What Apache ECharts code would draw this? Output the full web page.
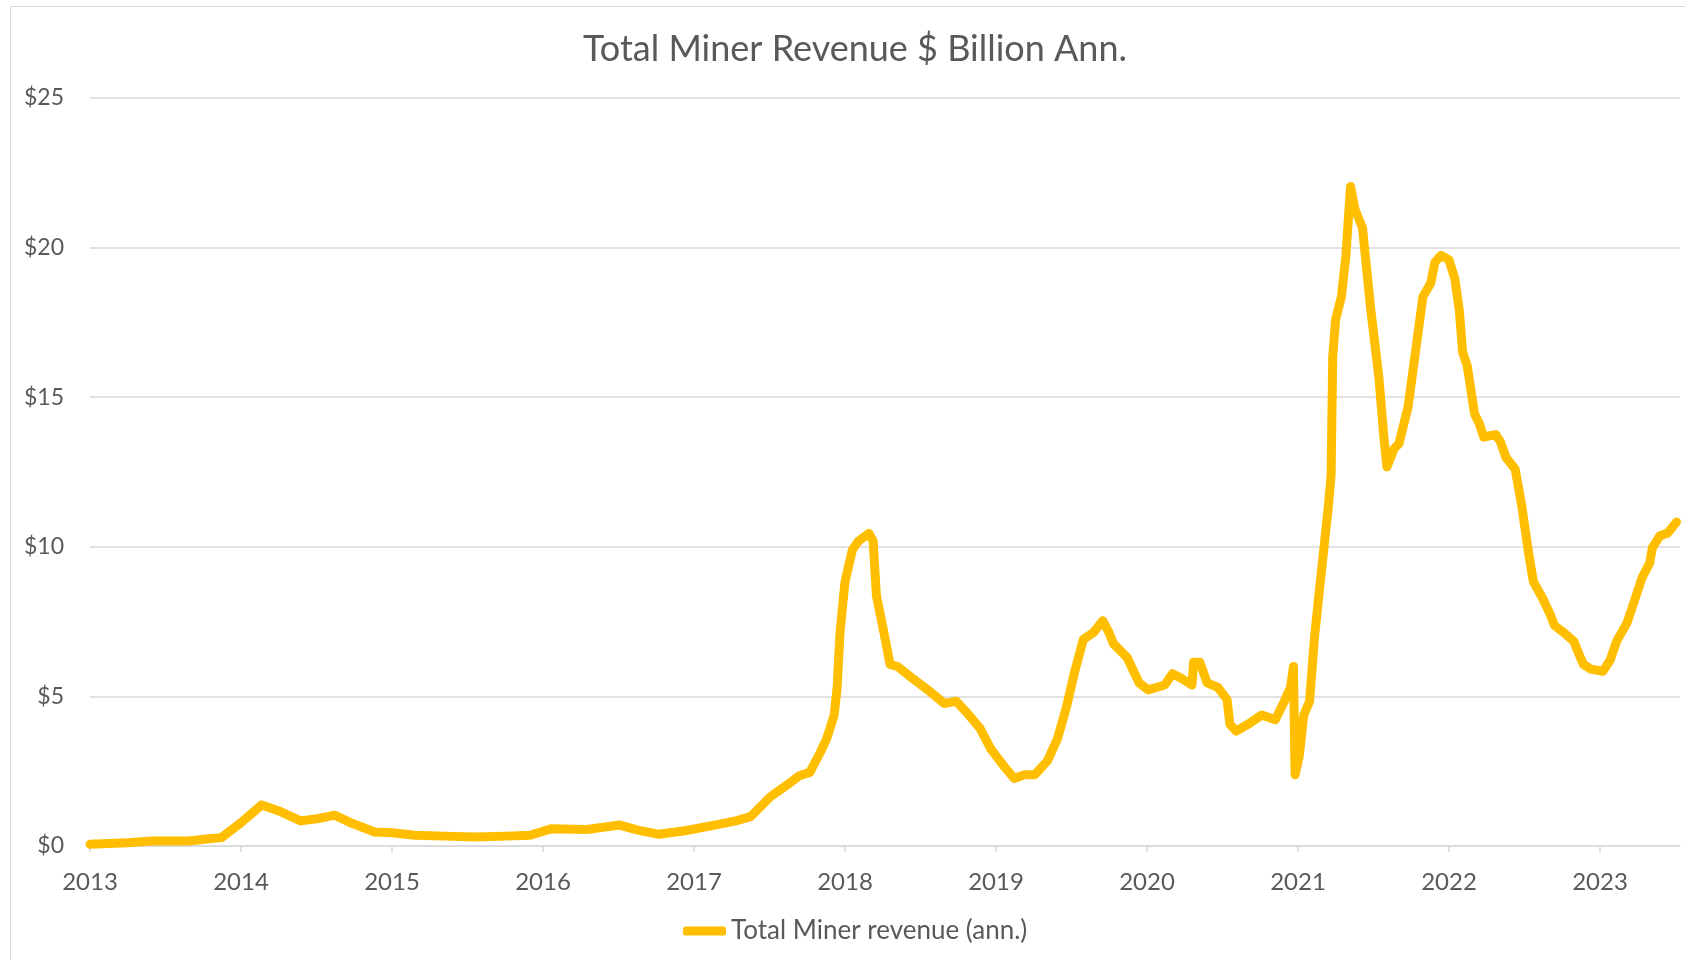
<!DOCTYPE html>
<html>
<head>
<meta charset="utf-8">
<title>Total Miner Revenue</title>
<script src="https://cdn.jsdelivr.net/npm/echarts@6.0.0/dist/echarts.min.js"></script>
<style>
  html, body { margin: 0; padding: 0; background: #fff; }
  #chart { width: 1685px; height: 960px; }
</style>
</head>
<body>
<div id="chart"></div>
<script>
// readings from the picture, $ billion annualised
const dates = [
  '2013-01-01', '2013-04-01', '2013-06-01', '2013-08-28', '2013-10-15', '2013-11-15',
  '2014-01-01', '2014-02-20', '2014-04-01', '2014-05-25', '2014-07-08', '2014-08-15',
  '2014-09-28', '2014-11-20', '2015-01-01', '2015-02-25', '2015-05-08', '2015-07-20',
  '2015-10-05', '2015-12-01', '2016-01-22', '2016-04-16', '2016-07-05', '2016-08-18',
  '2016-10-08', '2016-12-10', '2017-02-20', '2017-04-12', '2017-05-18', '2017-07-05',
  '2017-08-18', '2017-09-13', '2017-10-08', '2017-11-03', '2017-11-18', '2017-12-06',
  '2017-12-13', '2017-12-20', '2018-01-01', '2018-01-19', '2018-02-03', '2018-02-28',
  '2018-03-10', '2018-03-18', '2018-04-05', '2018-04-20', '2018-05-08', '2018-06-06',
  '2018-07-20', '2018-08-29', '2018-09-27', '2018-10-23', '2018-11-24', '2018-12-20',
  '2019-01-19', '2019-02-14', '2019-03-11', '2019-04-05', '2019-05-05', '2019-05-30',
  '2019-06-21', '2019-07-09', '2019-07-31', '2019-08-25', '2019-09-16', '2019-10-01',
  '2019-10-12', '2019-11-14', '2019-12-13', '2020-01-04', '2020-02-13', '2020-03-03',
  '2020-03-25', '2020-04-19', '2020-04-23', '2020-05-08', '2020-05-26', '2020-06-21',
  '2020-07-13', '2020-07-20', '2020-08-04', '2020-09-02', '2020-10-05', '2020-11-07',
  '2020-11-29', '2020-12-14', '2020-12-21', '2020-12-25', '2021-01-04', '2021-01-15',
  '2021-01-29', '2021-02-10', '2021-02-24', '2021-03-15', '2021-03-22', '2021-03-26',
  '2021-04-02', '2021-04-16', '2021-04-27', '2021-05-08', '2021-05-19', '2021-06-06',
  '2021-06-25', '2021-07-16', '2021-07-27', '2021-08-04', '2021-08-22', '2021-09-02',
  '2021-09-24', '2021-10-12', '2021-10-30', '2021-11-18', '2021-11-28', '2021-12-13',
  '2022-01-01', '2022-01-15', '2022-01-26', '2022-02-03', '2022-02-14', '2022-03-04',
  '2022-03-15', '2022-03-26', '2022-04-24', '2022-05-05', '2022-05-19', '2022-06-10',
  '2022-06-25', '2022-07-13', '2022-07-24', '2022-08-15', '2022-09-02', '2022-09-13',
  '2022-10-05', '2022-10-30', '2022-11-10', '2022-11-22', '2022-12-10', '2023-01-08',
  '2023-01-26', '2023-02-10', '2023-03-07', '2023-03-22', '2023-04-13', '2023-05-01',
  '2023-05-08', '2023-05-26', '2023-06-13', '2023-07-05'
];

const revenue = [
  0.06, 0.11, 0.17, 0.17, 0.24, 0.28,
  0.78, 1.37, 1.18, 0.84, 0.92, 1.03,
  0.75, 0.47, 0.44, 0.36, 0.33, 0.30,
  0.33, 0.36, 0.58, 0.55, 0.70, 0.53,
  0.39, 0.51, 0.70, 0.84, 0.98, 1.65,
  2.08, 2.35, 2.46, 3.15, 3.60, 4.38,
  5.30, 7.14, 8.83, 9.90, 10.20, 10.45,
  10.20, 8.37, 7.14, 6.07, 6.00, 5.68,
  5.22, 4.76, 4.84, 4.45, 3.92, 3.23,
  2.69, 2.26, 2.38, 2.38, 2.84, 3.60,
  4.68, 5.76, 6.90, 7.14, 7.53, 7.14,
  6.76, 6.30, 5.45, 5.22, 5.38, 5.76,
  5.60, 5.38, 6.14, 6.14, 5.45, 5.30,
  4.90, 4.07, 3.84, 4.07, 4.38, 4.22,
  4.84, 5.30, 6.00, 2.38, 3.00, 4.38,
  4.84, 6.99, 8.83, 11.30, 12.37, 16.36,
  17.60, 18.36, 19.74, 22.04, 21.27, 20.66,
  18.05, 15.60, 13.75, 12.67, 13.29, 13.44,
  14.67, 16.51, 18.36, 18.82, 19.51, 19.74,
  19.59, 18.97, 17.90, 16.51, 16.05, 14.44,
  14.13, 13.67, 13.75, 13.52, 12.98, 12.60,
  11.44, 9.75, 8.83, 8.29, 7.76, 7.37,
  7.14, 6.84, 6.45, 6.07, 5.91, 5.84,
  6.22, 6.84, 7.45, 8.06, 8.98, 9.45,
  9.98, 10.37, 10.45, 10.83
];

const years = [2013, 2014, 2015, 2016, 2017, 2018, 2019, 2020, 2021, 2022, 2023];
const xEnd = 2023.53; // axis stops in mid July 2023

const textColor = '#595959';
const gridColor = '#d9d9d9';
const lineColor = '#FFBF00';
const font = 'Lato, "Open Sans", sans-serif';

// date string -> fractional year, so the x axis can run on plain year numbers
function toYear (s) {
  const [y, m, d] = s.split('-').map(Number);
  const start = Date.UTC(y, 0, 1);
  const end = Date.UTC(y + 1, 0, 1);
  return y + (Date.UTC(y, m - 1, d) - start) / (end - start);
}

const chart = echarts.init(document.getElementById('chart'));

chart.setOption({
  animation: false,
  backgroundColor: '#ffffff',
  textStyle: { fontFamily: font },
  title: {
    text: 'Total Miner Revenue $ Billion Ann.',
    left: 850,
    top: 26,
    textAlign: 'center',
    textStyle: { color: textColor, fontSize: 36, fontWeight: 'normal', fontFamily: font }
  },
  graphic: [
    {
      type: 'rect',
      shape: { x: 10.5, y: 6.5, width: 1700, height: 1000 },
      style: { fill: 'none', stroke: gridColor, lineWidth: 1 },
      silent: true
    }
  ],
  legend: {
    left: 678,
    top: 913,
    icon: 'roundRect',
    itemWidth: 43,
    itemHeight: 9,
    textStyle: { color: textColor, fontSize: 26, fontFamily: font }
  },
  grid: {
    left: 90,
    right: 5,
    top: 98,
    bottom: 114,
    containLabel: false
  },
  xAxis: {
    type: 'value',
    min: 2013,
    max: xEnd,
    axisLine: { show: true, onZero: false, lineStyle: { color: gridColor, width: 1.5 } },
    axisTick: {
      show: true,
      length: 6,
      customValues: years,
      lineStyle: { color: gridColor, width: 1.5 }
    },
    axisLabel: {
      customValues: years,
      formatter: (v) => String(Math.round(v)),
      color: textColor,
      fontSize: 24,
      margin: 24,
      fontFamily: font
    },
    splitLine: { show: false }
  },
  yAxis: {
    type: 'value',
    min: 0,
    max: 25,
    interval: 5,
    axisLine: { show: false },
    axisTick: { show: false },
    axisLabel: {
      formatter: '${value}',
      color: textColor,
      fontSize: 23,
      margin: 26,
      fontFamily: font
    },
    splitLine: { lineStyle: { color: gridColor, width: 1.5 } }
  },
  series: [
    {
      name: 'Total Miner revenue (ann.)',
      type: 'line',
      data: dates.map((d, i) => [toYear(d), revenue[i]]),
      showSymbol: false,
      symbol: 'none',
      smooth: false,
      itemStyle: { color: lineColor },
      lineStyle: { color: lineColor, width: 9, cap: 'round', join: 'round' }
    }
  ]
});
</script>
</body>
</html>
